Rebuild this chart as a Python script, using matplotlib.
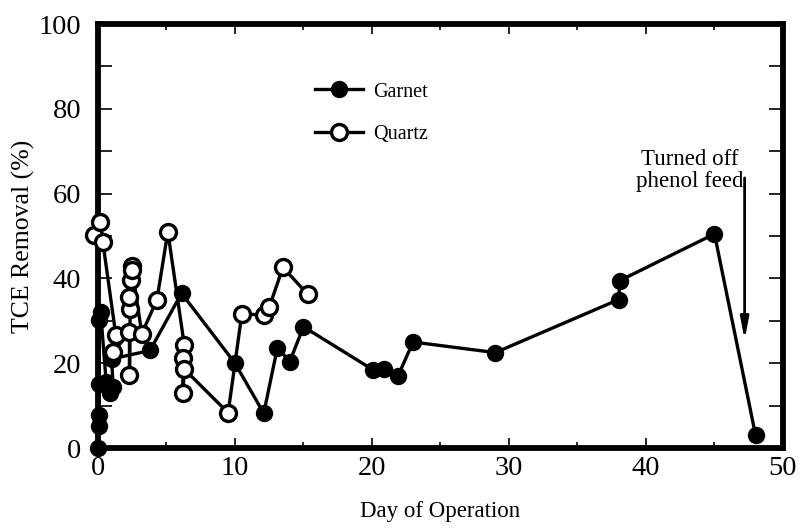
import matplotlib
matplotlib.use("Agg")
import matplotlib.pyplot as plt
from matplotlib.ticker import MultipleLocator

plt.rcParams['font.family'] = ['Liberation Serif', 'DejaVu Serif']

# Garnet (filled markers)
garnet_day = [0.0, 0.05, 0.1, 0.1, 0.1, 0.2, 0.6, 0.9, 1.1, 1.0, 3.8, 6.1, 10.0, 12.1,
              13.1, 14.0, 15.0, 20.1, 20.9, 21.9, 23.0, 29.0, 38.0, 38.1, 45.0, 48.0]
garnet_val = [0.0, 5.2, 7.8, 15.0, 30.2, 32.0, 15.5, 13.0, 14.5, 21.0, 23.0, 36.5, 20.0, 8.2,
              23.7, 20.4, 28.6, 18.4, 18.7, 17.0, 25.0, 22.5, 35.0, 39.5, 50.5, 3.0]

# Quartz (open markers)
quartz_day = [-0.3, 0.15, 0.35, 1.3, 1.1, 2.3, 2.3, 2.35, 2.3, 2.4, 2.45, 2.5, 3.2, 4.3,
              5.1, 6.3, 6.2, 6.2, 6.3, 9.5, 10.5, 12.1, 12.5, 13.5, 15.3]
quartz_val = [50.2, 53.4, 48.7, 26.7, 22.6, 27.3, 17.2, 32.7, 35.7, 39.6, 43.0, 42.0, 27.0, 34.9,
              51.0, 24.3, 21.2, 12.9, 18.6, 8.3, 31.6, 31.4, 33.2, 42.6, 36.3]

xticks = [0, 10, 20, 30, 40, 50]
yticks = [0, 20, 40, 60, 80, 100]

fig = plt.figure(figsize=(8.01, 5.29), dpi=100)
ax = fig.add_axes([0.1223, 0.1531, 0.8552, 0.8015])

ax.plot(garnet_day, garnet_val, '-o', color='black', lw=2.4, ms=11.5,
        mfc='black', mec='black', clip_on=False, zorder=3, label='Garnet')
ax.plot(quartz_day, quartz_val, '-o', color='black', lw=2.4, ms=11.5,
        mfc='white', mec='black', mew=2.4, clip_on=False, zorder=4, label='Quartz')

ax.set_xlim(0, 50)
ax.set_ylim(0, 100)
ax.set_xticks(xticks)
ax.set_yticks(yticks)
ax.xaxis.set_minor_locator(MultipleLocator(5))
ax.yaxis.set_minor_locator(MultipleLocator(10))

for s in ax.spines.values():
    s.set_linewidth(4.2)

ax.tick_params(axis='both', which='both', direction='in', labelsize=20.5, width=1.2,
               top=True, right=True)
ax.tick_params(axis='y', which='both', length=10, pad=12)
ax.tick_params(axis='x', which='major', length=7, pad=6)
ax.tick_params(axis='x', which='minor', length=4)

ax.set_xlabel('Day of Operation', fontsize=16.5, labelpad=14)
ax.set_ylabel('TCE Removal (%)', fontsize=18.5, labelpad=3)

leg = ax.legend(loc='upper left', bbox_to_anchor=(0.29, 0.905), frameon=False,
                fontsize=14.5, handlelength=2.4, labelspacing=1.15, handletextpad=0.5)

ax.annotate('', xy=(47.2, 25.5), xytext=(47.2, 63.7),
            arrowprops=dict(arrowstyle='-|>,head_length=1.3,head_width=0.25',
                            color='black', lw=2.0, shrinkA=0, shrinkB=0))
ax.text(47.1, 65.5, 'Turned off\nphenol feed', ha='right', va='center', multialignment='center',
        fontsize=16.5, linespacing=1.05)

fig.savefig('out.png', dpi=100)
